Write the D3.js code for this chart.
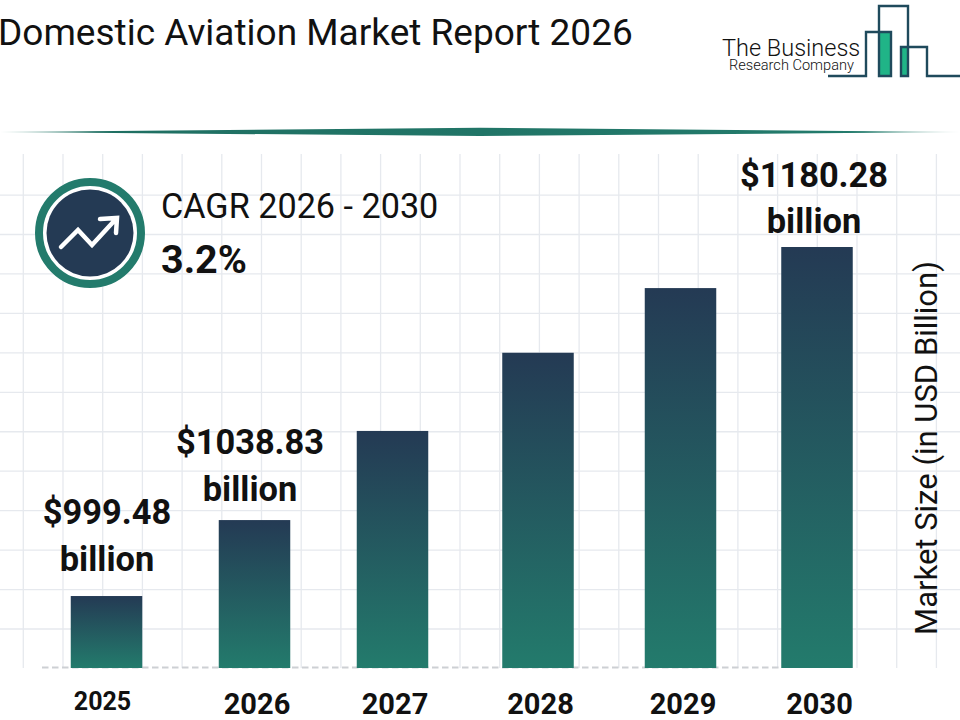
<!DOCTYPE html>
<html>
<head>
<meta charset="utf-8">
<script src="https://cdnjs.cloudflare.com/ajax/libs/d3/7.8.5/d3.min.js"></script>
<style>
  html, body { margin: 0; background: #fff; }
  svg { display: block; }
  text { font-family: Roboto, sans-serif; fill: #111; }
</style>
</head>
<body>
<svg id="chart" width="960" height="720"></svg>
<script>
// values, only 2025, 2026 and 2030 are printed
const years = ["2025", "2026", "2027", "2028", "2029", "2030"];
const marketSize = [999.48, 1038.83, 1085, 1125.5, 1159, 1180.28];
const valueLabels = ["$999.48", "$1038.83", null, null, null, "$1180.28"];

const svg = d3.select("#chart");
const defs = svg.append("defs");

const barGrad = defs.append("linearGradient").attr("id", "barGrad")
  .attr("x1", 0).attr("y1", 0).attr("x2", 0).attr("y2", 1);
barGrad.append("stop").attr("offset", "0%").attr("stop-color", "#243a54");
barGrad.append("stop").attr("offset", "100%").attr("stop-color", "#237b6c");

const ruleGrad = defs.append("linearGradient").attr("id", "ruleGrad");
ruleGrad.append("stop").attr("offset", "0%").attr("stop-color", "#9cc5bc");
ruleGrad.append("stop").attr("offset", "10%").attr("stop-color", "#1f6f62");
ruleGrad.append("stop").attr("offset", "90%").attr("stop-color", "#237b6c");
ruleGrad.append("stop").attr("offset", "100%").attr("stop-color", "#cfe3de");

// the bars are not evenly spaced in the original
const x = d3.scaleOrdinal().domain(years).range([106.5, 254.5, 392.5, 538, 680.5, 817]);
const y = d3.scaleLinear().domain([962.2, 1180.28]).range([668, 247]);
const barWidth = 71.5;

// label placement is hand set too
const labelX = d3.scaleOrdinal().domain(years).range([107, 250, 392, 538, 680, 814]);
const labelY = d3.scaleOrdinal().domain(years).range([524, 454, 0, 0, 0, 186.5]);

// grid
const gridColor = "#e6e9ee";
svg.append("g").selectAll("line").data(d3.range(0, 24)).join("line")
  .attr("x1", d => 23.3 + d * 39.7).attr("x2", d => 23.3 + d * 39.7)
  .attr("y1", 154).attr("y2", 668)
  .attr("stroke", gridColor).attr("stroke-width", 1.3);
svg.append("g").selectAll("line").data(d3.range(0, 12)).join("line")
  .attr("x1", 0).attr("x2", 960)
  .attr("y1", d => 629 - d * 39.45).attr("y2", d => 629 - d * 39.45)
  .attr("stroke", gridColor).attr("stroke-width", 1.3);
svg.append("line")
  .attr("x1", 42).attr("x2", 780).attr("y1", 667.5).attr("y2", 667.5)
  .attr("stroke", "#cdd0d4").attr("stroke-width", 2).attr("stroke-dasharray", "6.5 3.5");

// bars
svg.append("g").selectAll("rect").data(years).join("rect")
  .attr("x", d => x(d) - barWidth / 2)
  .attr("width", barWidth)
  .attr("y", (d, i) => y(marketSize[i]))
  .attr("height", (d, i) => y.range()[0] - y(marketSize[i]))
  .attr("fill", "url(#barGrad)");

// value labels, two lines each
const labelled = years.map((d, i) => ({ year: d, label: valueLabels[i] })).filter(d => d.label);
const labels = svg.append("g").selectAll("g").data(labelled).join("g");
labels.append("text")
  .attr("text-anchor", "middle").attr("font-size", 34.4).attr("font-weight", 700)
  .attr("x", d => labelX(d.year))
  .attr("y", d => labelY(d.year))
  .text(d => d.label);
labels.append("text")
  .attr("text-anchor", "middle").attr("font-size", 34.4).attr("font-weight", 700)
  .attr("x", d => labelX(d.year))
  .attr("y", d => labelY(d.year) + 46.5)
  .text("billion");

// year axis
const axis = svg.append("g").attr("transform", "translate(0,668)")
  .call(d3.axisBottom(x).tickSize(0));
axis.select(".domain").remove();
axis.selectAll("text")
  .attr("font-family", "Roboto, sans-serif")
  .attr("font-weight", 700)
  .attr("font-size", d => d === "2025" ? 25 : 29)
  .attr("dy", null)
  .attr("y", d => d === "2025" ? 42 : 45.5)
  .attr("dx", d => d === "2025" ? -4.5 : 2);

// axis title
svg.append("text")
  .attr("transform", "translate(937,448) rotate(-90)")
  .attr("text-anchor", "middle").attr("font-size", 31)
  .text("Market Size (in USD Billion)");

// title
svg.append("text").attr("x", -2).attr("y", 45).attr("font-size", 37)
  .text("Domestic Aviation Market Report 2026");

// rule under header
svg.append("path")
  .attr("d", "M0,132 L480,127.7 L960,132 L480,136 Z")
  .attr("fill", "url(#ruleGrad)");

// cagr badge
const badge = svg.append("g").attr("transform", "translate(90,233)");
badge.append("circle").attr("r", 51).attr("fill", "#fff").attr("stroke", "#237b6c").attr("stroke-width", 8);
badge.append("circle").attr("r", 43.5).attr("fill", "#243a54");
badge.append("path")
  .attr("d", "M-29,14 L-12,-3 L2,12 L25,-13 M10,-14 L27,-15 L26,0")
  .attr("fill", "none").attr("stroke", "#fff").attr("stroke-width", 4.5)
  .attr("stroke-linecap", "round").attr("stroke-linejoin", "miter");
svg.append("text").attr("x", 161).attr("y", 218).attr("font-size", 34.2).text("CAGR 2026 - 2030");
svg.append("text").attr("x", 161).attr("y", 273).attr("font-size", 39.5).attr("font-weight", 700).text("3.2%");

// logo
const logo = svg.append("g");
logo.append("rect").attr("x", 879).attr("y", 32).attr("width", 12).attr("height", 44).attr("fill", "#20b487");
logo.append("rect").attr("x", 901).attr("y", 47).attr("width", 7).attr("height", 29).attr("fill", "#20b487");
logo.append("path")
  .attr("d", "M828,76 H866 V32 H891 V76 H879 V6 H908 V76 H901 V47 H927 V76 H960")
  .attr("fill", "none").attr("stroke", "#1f4a5c").attr("stroke-width", 2.4);
logo.append("text").attr("x", 722).attr("y", 56).attr("font-size", 23.5)
  .attr("font-family", "Lato, sans-serif").attr("font-weight", 300).text("The Business");
logo.append("text").attr("x", 729).attr("y", 69.5).attr("font-size", 14.6)
  .attr("font-family", "Lato, sans-serif").attr("font-weight", 300).text("Research Company");
</script>
</body>
</html>
